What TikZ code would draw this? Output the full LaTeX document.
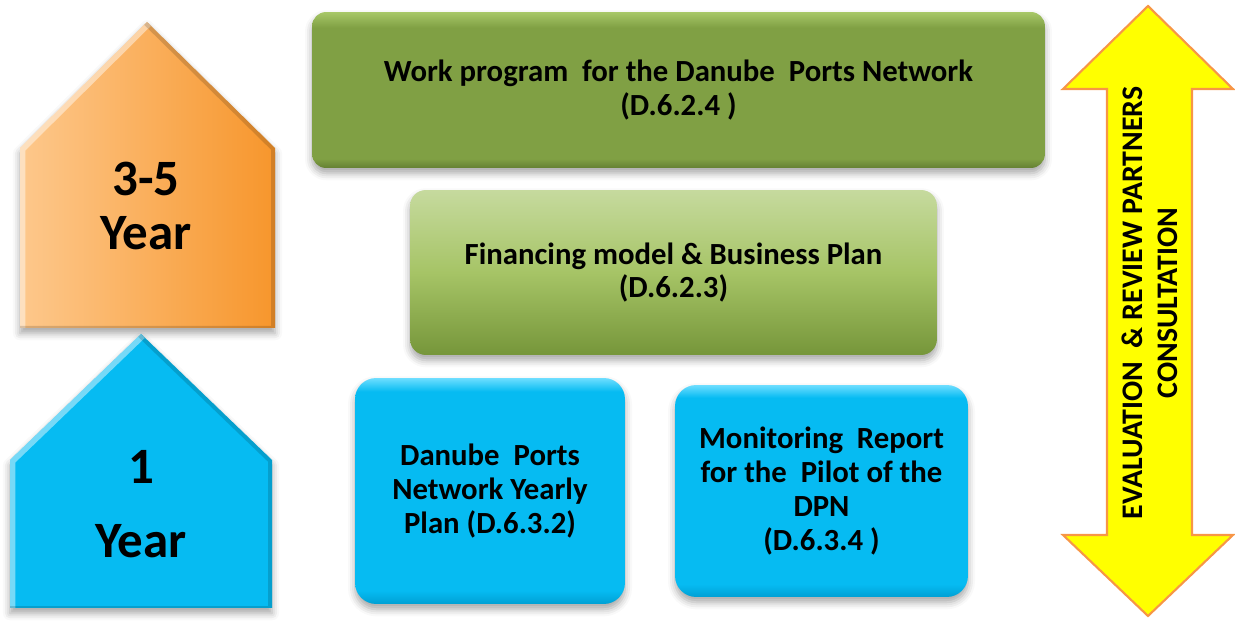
\documentclass[tikz,border=0pt]{standalone}
\usepackage{fontspec}
\setmainfont{Carlito}
\usetikzlibrary{shadows.blur}

% palette
\definecolor{wpLight}{RGB}{168,200,104}
\definecolor{wpBody}{RGB}{128,160,68}
\definecolor{wpDark}{RGB}{100,128,50}
\definecolor{fnLight}{RGB}{198,218,158}
\definecolor{fnMid}{RGB}{166,196,102}
\definecolor{fnDark}{RGB}{118,150,58}
\definecolor{cyBody}{RGB}{6,187,242}
\definecolor{cyLight}{RGB}{110,222,255}
\definecolor{cyDark}{RGB}{0,160,212}
\definecolor{orLight}{RGB}{253,200,140}
\definecolor{orDark}{RGB}{247,150,44}
\definecolor{arrowFill}{RGB}{255,255,0}
\definecolor{arrowLine}{RGB}{247,150,70}

% fills (the 25bp--75bp band spans the filled shape)
\pgfdeclareverticalshading{wpshade}{100bp}{color(0bp)=(wpDark); color(25bp)=(wpDark); color(28bp)=(wpBody); color(70bp)=(wpBody); color(75bp)=(wpLight); color(100bp)=(wpLight)}
\pgfdeclareverticalshading{fnshade}{100bp}{color(0bp)=(fnDark); color(25bp)=(fnDark); color(50bp)=(fnMid); color(75bp)=(fnLight); color(100bp)=(fnLight)}
\pgfdeclareverticalshading{cyshade}{100bp}{color(0bp)=(cyDark); color(25bp)=(cyDark); color(28bp)=(cyBody); color(72bp)=(cyBody); color(75bp)=(cyLight); color(100bp)=(cyLight)}
\pgfdeclarehorizontalshading{orshade}{100bp}{color(0bp)=(orLight); color(25bp)=(orLight); color(75bp)=(orDark); color(100bp)=(orDark)}

\tikzset{
  softshadow/.style={blur shadow={shadow xshift=0pt, shadow yshift=-3pt, shadow blur radius=4pt, shadow opacity=35}},
  deliv/.style={inner sep=0pt, outer sep=0pt, align=center, font=\bfseries\fontsize{17.5}{19.3}\selectfont, softshadow},
  workbox/.style={deliv, shading=wpshade, rounded corners=8pt},
  finbox/.style={deliv, shading=fnshade, rounded corners=9pt},
  cybox/.style={deliv, shading=cyshade, rounded corners=12pt},
  yeartext/.style={align=center, font=\bfseries\fontsize{29}{31}\selectfont},
  highlight/.style={white, opacity=0.45, line width=0.22cm},
  lowlight/.style={black, opacity=0.15, line width=0.16cm},
}

\begin{document}
\begin{tikzpicture}[x=0.02cm, y=-0.02cm]
\useasboundingbox (0,0) rectangle (1235,621);

% ---- time-horizon pentagons ----
\def\orpath{(20,328) -- (20,148) -- (147,22) -- (275,148) -- (275,328) -- cycle}
\def\cypath{(10,608) -- (10,460) -- (141,334) -- (272,460) -- (272,608) -- cycle}

\path[shading=orshade, softshadow] \orpath;
\begin{scope}
  \clip \orpath;
  \draw[highlight] (20,330) -- (20,148) -- (147,22);
  \draw[lowlight] (147,22) -- (275,148) -- (275,330) -- (20,330);
\end{scope}

\path[fill=cyBody, softshadow] \cypath;
\begin{scope}
  \clip \cypath;
  \draw[highlight] (10,610) -- (10,460) -- (141,334);
  \draw[lowlight] (141,334) -- (272,460) -- (272,610) -- (10,610);
\end{scope}

\node[yeartext] (yr35) at (146,206) {3-5\\Year};
\node[yeartext] (yr1) at (141,504) {1\\[11pt]Year};

% ---- deliverables ----
\node[workbox, minimum width=14.66cm, minimum height=3.12cm] (work) at (678.5,90)
  {Work program~ for the Danube~ Ports Network\\(D.6.2.4 )};
\node[finbox, minimum width=10.54cm, minimum height=3.3cm] (fin) at (673.5,272.5)
  {Financing model \& Business Plan\\(D.6.2.3)};
\node[cybox, minimum width=5.4cm, minimum height=4.52cm] (yearly) at (490,491)
  {Danube~ Ports\\Network Yearly\\Plan (D.6.3.2)};
\node[cybox, minimum width=5.86cm, minimum height=4.24cm] (monitor) at (821.5,491)
  {Monitoring~ Report\\for the~ Pilot of the\\DPN\\(D.6.3.4 )};

% ---- consultation double arrow ----
\coordinate (tipT) at (1148,6);
\coordinate (tipB) at (1148,616);
\path[fill=arrowFill, draw=arrowLine, line width=1.2pt, line join=miter]
  (tipT) -- (1233,89) -- (1192,89) -- (1192,535) -- (1233,535) -- (tipB)
  -- (1063,535) -- (1107,535) -- (1107,89) -- (1063,89) -- cycle;
\node[rotate=90, align=center, font=\bfseries\fontsize{17}{20}\selectfont] (consult) at (1150,303)
  {EVALUATION~ \& REVIEW PARTNERS\\CONSULTATION};

\end{tikzpicture}
\end{document}
